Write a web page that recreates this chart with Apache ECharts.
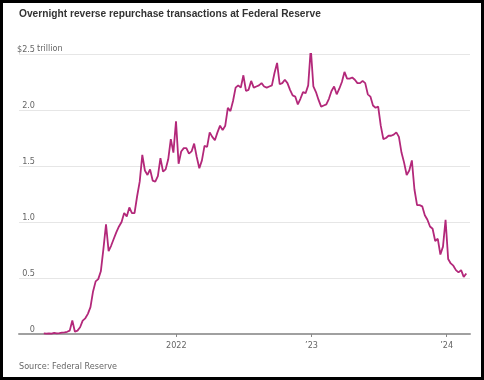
<!DOCTYPE html>
<html>
<head>
<meta charset="utf-8">
<script src="https://cdn.jsdelivr.net/npm/echarts@6/dist/echarts.min.js"></script>
<style>
html,body{margin:0;padding:0;background:#fff;}
#chart{width:484px;height:380px;}
</style>
</head>
<body>
<div id="chart"></div>
<script>
// Weekly readings (trillions of dollars), starting 2021-01-08, one value per week
const startDate = '2021-01-08';
const weeklyValues = [
  0.005, 0.003, 0.005, 0.004, 0.01, 0.006, 0.008, 0.012, 0.015, 0.02,
  0.03, 0.12, 0.02, 0.03, 0.06, 0.12, 0.14, 0.18, 0.24, 0.38,
  0.47, 0.49, 0.56, 0.76, 0.98, 0.74, 0.79, 0.85, 0.91, 0.96,
  1.00, 1.08, 1.05, 1.13, 1.08, 1.08, 1.23, 1.36, 1.60, 1.46,
  1.42, 1.47, 1.37, 1.36, 1.41, 1.57, 1.45, 1.47, 1.56, 1.74,
  1.62, 1.90, 1.52, 1.63, 1.66, 1.66, 1.61, 1.63, 1.70, 1.58,
  1.48, 1.55, 1.68, 1.67, 1.80, 1.76, 1.73, 1.80, 1.86, 1.82,
  1.86, 2.02, 1.99, 2.08, 2.20, 2.22, 2.20, 2.31, 2.17, 2.18,
  2.26, 2.20, 2.21, 2.22, 2.24, 2.21, 2.20, 2.21, 2.22, 2.33,
  2.42, 2.23, 2.24, 2.27, 2.24, 2.18, 2.13, 2.12, 2.05, 2.10,
  2.16, 2.15, 2.22, 2.55, 2.21, 2.16, 2.09, 2.03, 2.04, 2.05,
  2.10, 2.17, 2.21, 2.14, 2.19, 2.25, 2.34, 2.28, 2.28, 2.29,
  2.27, 2.24, 2.24, 2.26, 2.24, 2.14, 2.12, 2.04, 2.02, 2.03,
  1.86, 1.74, 1.75, 1.77, 1.77, 1.78, 1.80, 1.76, 1.62, 1.53,
  1.42, 1.46, 1.55, 1.29, 1.15, 1.15, 1.14, 1.06, 1.02, 0.96,
  0.94, 0.83, 0.85, 0.71, 0.78, 1.02, 0.67, 0.63, 0.61, 0.57,
  0.55, 0.57, 0.51, 0.54
];
const yTicks = [0, 0.5, 1.0, 1.5, 2.0, 2.5];
const yTickLabels = ['0', '0.5', '1.0', '1.5', '2.0', '$2.5'];
const xTickYears = [2022, 2023, 2024];
const xTickLabels = ['2022', '\u201923', '\u201924'];
const titleText = 'Overnight reverse repurchase transactions at Federal Reserve';
const sourceText = 'Source: Federal Reserve';

const DAY = 86400000;
const p = startDate.split('-').map(Number);
const t0 = Date.UTC(p[0], p[1] - 1, p[2]);
const seriesData = weeklyValues.map((v, i) => [t0 + i * 7 * DAY, v]);
const xTicks = xTickYears.map(y => Date.UTC(y, 0, 1));

const narrow = "'Liberation Sans Narrow', 'DejaVu Sans Condensed', sans-serif";
const labelSize = 9;
const chart = echarts.init(document.getElementById('chart'), null, {renderer: 'canvas'});
chart.setOption({
  animation: false,
  backgroundColor: '#fff',
  title: {
    text: titleText,
    left: 19, top: 9, padding: 0,
    textStyle: {fontFamily: "'Liberation Sans', Arial, sans-serif", fontWeight: 'bold', fontSize: 10.2, color: '#333'}
  },
  grid: {left: 19, right: 14, top: 54, bottom: 46},
  xAxis: {
    type: 'value',
    min: Date.UTC(2020, 10, 2),
    max: Date.UTC(2024, 2, 4),
    axisLine: {show: true, lineStyle: {color: '#a0a0a0', width: 2}},
    axisTick: {show: true, customValues: xTicks, length: 3, lineStyle: {color: '#888', width: 1}},
    splitLine: {show: false},
    axisLabel: {
      customValues: xTicks,
      margin: 7,
      fontFamily: narrow, fontSize: labelSize, color: '#666',
      formatter: function (v) { const i = xTicks.indexOf(v); return i >= 0 ? xTickLabels[i] : ''; }
    }
  },
  yAxis: {
    type: 'value',
    min: 0, max: 2.5, interval: 0.5,
    axisLine: {show: false},
    axisTick: {show: false},
    splitLine: {show: true, lineStyle: {color: '#e6e6e6', width: 1}},
    axisLabel: {
      margin: -16,
      verticalAlign: 'bottom',
      fontFamily: narrow, fontSize: labelSize, color: '#666',
      formatter: function (v) {
        for (let i = 0; i < yTicks.length; i++) if (Math.abs(yTicks[i] - v) < 1e-9) return yTickLabels[i];
        return '';
      }
    }
  },
  series: [{
    type: 'line',
    data: seriesData,
    showSymbol: false,
    symbol: 'none',
    lineStyle: {color: '#b3287a', width: 1.8},
    z: 5
  }],
  graphic: [
    {type: 'text', left: 37, top: 44, style: {text: 'trillion', font: labelSize + "px " + narrow, fill: '#666'}},
    {type: 'text', left: 19, top: 362, style: {text: sourceText, font: labelSize + "px " + narrow, fill: '#666'}},
    {type: 'rect', shape: {x: 1.5, y: 1.5, width: 481, height: 377}, style: {fill: 'none', stroke: '#000', lineWidth: 3}, z: 100}
  ]
});
</script>
</body>
</html>
